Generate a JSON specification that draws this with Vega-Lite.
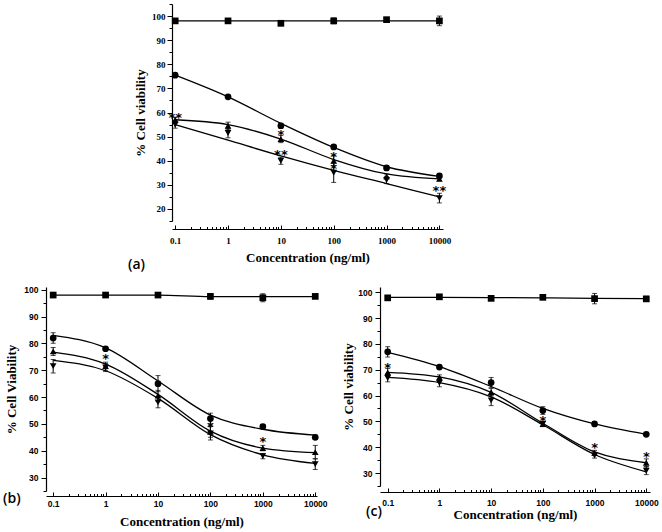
{
  "$schema": "https://vega.github.io/schema/vega-lite/v6.json",
  "padding": {"left": 3, "top": 1, "right": 2, "bottom": 0},
  "background": "white",
  "config": {
    "view": {"stroke": null},
    "axis": {"grid": false, "domainColor": "black", "domainWidth": 1.2, "tickColor": "black", "tickWidth": 1, "labelColor": "black", "titleColor": "black", "labelFontWeight": "bold", "titleFont": "Liberation Serif", "titleFontWeight": "bold", "titleFontSize": 13},
    "title": {"font": "Open Sans", "fontSize": 14, "fontWeight": 600, "color": "black"}
  },
  "datasets": {
    "a": [
      {"c": 0.1, "s": "sq", "v": 98, "e": 0.8, "f": 98}, {"c": 1, "s": "sq", "v": 98, "e": 0.5, "f": 98}, {"c": 10, "s": "sq", "v": 97, "e": 1, "f": 98}, {"c": 100, "s": "sq", "v": 98, "e": 1.2, "f": 98}, {"c": 1000, "s": "sq", "v": 98.5, "e": 0.5, "f": 98}, {"c": 10000, "s": "sq", "v": 98, "e": 2, "f": 98},
      {"c": 0.1, "s": "ci", "v": 75.5, "e": 0.6, "f": 75.5}, {"c": 1, "s": "ci", "v": 66.5, "e": 0.5, "f": 66.5}, {"c": 10, "s": "ci", "v": 54.5, "e": 1, "f": 55.5}, {"c": 100, "s": "ci", "v": 45.7, "e": 0.8, "f": 45.5}, {"c": 1000, "s": "ci", "v": 37, "e": 1, "f": 37.5}, {"c": 10000, "s": "ci", "v": 33.7, "e": 0.6, "f": 33.5},
      {"c": 0.1, "s": "tu", "v": 57, "e": 1, "f": 57}, {"c": 1, "s": "tu", "v": 54.5, "e": 1.5, "f": 55}, {"c": 10, "s": "tu", "v": 49, "e": 1.5, "f": 49}, {"c": 100, "s": "tu", "v": 40, "e": 2, "f": 40.5}, {"c": 1000, "s": "tu", "v": 33.5, "e": 1, "f": 34.5}, {"c": 10000, "s": "tu", "v": 32.5, "e": 0.8, "f": 32.5},
      {"c": 0.1, "s": "td", "v": 55, "e": 1.5, "f": 55}, {"c": 1, "s": "td", "v": 51.5, "e": 2, "f": 48.5}, {"c": 10, "s": "td", "v": 40, "e": 1.5, "f": 42}, {"c": 100, "s": "td", "v": 35, "e": 4, "f": 36}, {"c": 1000, "s": "td", "v": 32, "e": 1.5, "f": 30.5}, {"c": 10000, "s": "td", "v": 24.5, "e": 2, "f": 25}
    ],
    "sa": [
      {"c": 0.1, "v": 59, "t": "**"}, {"c": 10, "v": 51.8, "t": "*"}, {"c": 10, "v": 43.5, "t": "**"}, {"c": 100, "v": 42.8, "t": "*"}, {"c": 100, "v": 37.8, "t": "*"}, {"c": 10000, "v": 28.7, "t": "**"}
    ],
    "b": [
      {"c": 0.1, "s": "sq", "v": 98, "e": 0.8, "f": 98}, {"c": 1, "s": "sq", "v": 98, "e": 0.5, "f": 98}, {"c": 10, "s": "sq", "v": 98, "e": 0.8, "f": 98}, {"c": 100, "s": "sq", "v": 97.5, "e": 1, "f": 97.4}, {"c": 1000, "s": "sq", "v": 97, "e": 1.5, "f": 97.4}, {"c": 10000, "s": "sq", "v": 97.5, "e": 0.5, "f": 97.4},
      {"c": 0.1, "s": "ci", "v": 82, "e": 2, "f": 83}, {"c": 1, "s": "ci", "v": 78, "e": 0.5, "f": 78.3}, {"c": 10, "s": "ci", "v": 65, "e": 3, "f": 66}, {"c": 100, "s": "ci", "v": 52, "e": 2, "f": 53.3}, {"c": 1000, "s": "ci", "v": 49, "e": 0.8, "f": 48}, {"c": 10000, "s": "ci", "v": 45, "e": 0.8, "f": 45.8},
      {"c": 0.1, "s": "tu", "v": 77, "e": 1.5, "f": 76.7}, {"c": 1, "s": "tu", "v": 71.5, "e": 1.5, "f": 72.3}, {"c": 10, "s": "tu", "v": 60.5, "e": 2, "f": 61}, {"c": 100, "s": "tu", "v": 47, "e": 2, "f": 47.3}, {"c": 1000, "s": "tu", "v": 41, "e": 1, "f": 41}, {"c": 10000, "s": "tu", "v": 39.5, "e": 2.5, "f": 39.3},
      {"c": 0.1, "s": "td", "v": 71.5, "e": 2.5, "f": 73.7}, {"c": 1, "s": "td", "v": 71, "e": 1.5, "f": 69.8}, {"c": 10, "s": "td", "v": 58, "e": 2, "f": 59.5}, {"c": 100, "s": "td", "v": 46.5, "e": 2.5, "f": 46}, {"c": 1000, "s": "td", "v": 38, "e": 1, "f": 38.5}, {"c": 10000, "s": "td", "v": 35, "e": 2, "f": 35.3}
    ],
    "sb": [
      {"c": 1, "v": 75.4, "t": "*"}, {"c": 100, "v": 49.8, "t": "*"}, {"c": 1000, "v": 44.2, "t": "*"}
    ],
    "c": [
      {"c": 0.1, "s": "sq", "v": 97.8, "e": 0.5, "f": 98}, {"c": 1, "s": "sq", "v": 98.2, "e": 0.3, "f": 98}, {"c": 10, "s": "sq", "v": 97.6, "e": 0.8, "f": 97.9}, {"c": 100, "s": "sq", "v": 98, "e": 0.5, "f": 97.8}, {"c": 1000, "s": "sq", "v": 97.5, "e": 2, "f": 97.6}, {"c": 10000, "s": "sq", "v": 97.4, "e": 1, "f": 97.5},
      {"c": 0.1, "s": "ci", "v": 76.9, "e": 2, "f": 76.7}, {"c": 1, "s": "ci", "v": 71, "e": 0.5, "f": 71.2}, {"c": 10, "s": "ci", "v": 65, "e": 2, "f": 63.5}, {"c": 100, "s": "ci", "v": 54.2, "e": 1.5, "f": 55}, {"c": 1000, "s": "ci", "v": 49, "e": 0.5, "f": 49}, {"c": 10000, "s": "ci", "v": 45, "e": 0.5, "f": 45},
      {"c": 0.1, "s": "tu", "v": 69, "e": 1.5, "f": 69}, {"c": 1, "s": "tu", "v": 67, "e": 1, "f": 67.2}, {"c": 10, "s": "tu", "v": 61.3, "e": 1.5, "f": 61.2}, {"c": 100, "s": "tu", "v": 49, "e": 1, "f": 49.3}, {"c": 1000, "s": "tu", "v": 37.8, "e": 1, "f": 38.2}, {"c": 10000, "s": "tu", "v": 34, "e": 1.5, "f": 34},
      {"c": 0.1, "s": "td", "v": 66.8, "e": 1.5, "f": 67}, {"c": 1, "s": "td", "v": 64.9, "e": 1.5, "f": 65}, {"c": 10, "s": "td", "v": 58.1, "e": 2, "f": 59.5}, {"c": 100, "s": "td", "v": 49, "e": 1, "f": 48.7}, {"c": 1000, "s": "td", "v": 36.8, "e": 1, "f": 37.2}, {"c": 10000, "s": "td", "v": 30.9, "e": 1.5, "f": 30.5}
    ],
    "sc": [
      {"c": 0.1, "v": 72, "t": "*"}, {"c": 100, "v": 51.3, "t": "*"}, {"c": 1000, "v": 40.9, "t": "*"}, {"c": 10000, "v": 37.4, "t": "*"}
    ]
  },
  "vconcat": [
    {
      "spacing": 0,
      "hconcat": [
        {"width": 82, "height": 1, "data": {"values": [{}]}, "mark": {"type": "point", "opacity": 0}},
        {
          "width": 271, "height": 217,
          "title": {"text": "(a)", "orient": "bottom", "anchor": "start", "frame": "group", "offset": 0, "dx": -44, "dy": -6},
          "encoding": {
            "x": {"field": "c", "type": "quantitative", "scale": {"type": "log", "domain": [0.087, 11700], "nice": false},
              "axis": {"title": "Concentration (ng/ml)", "offset": 8, "labelFont": "Liberation Serif", "labelFontSize": 9, "format": "~g", "labelPadding": 11,
                "values": [0.1,0.2,0.3,0.4,0.5,0.6,0.7,0.8,0.9,1,2,3,4,5,6,7,8,9,10,20,30,40,50,60,70,80,90,100,200,300,400,500,600,700,800,900,1000,2000,3000,4000,5000,6000,7000,8000,9000,10000],
                "labelExpr": "abs(log(datum.value)/LN10 - round(log(datum.value)/LN10)) < 0.001 ? datum.label : ''",
                "tickSize": {"condition": {"test": "abs(log(datum.value)/LN10 - round(log(datum.value)/LN10)) < 0.001", "value": -4}, "value": -2.5},
                "titlePadding": 6}},
            "y": {"field": "v", "type": "quantitative", "scale": {"domain": [15, 105], "nice": false, "zero": false},
              "axis": {"title": "% Cell viability", "labelFont": "Liberation Serif", "labelFontSize": 9, "labelPadding": 2, "titlePadding": 4,
                "values": [15,20,25,30,35,40,45,50,55,60,65,70,75,80,85,90,95,100,105],
                "labelExpr": "datum.value % 10 === 0 ? datum.label : ''",
                "tickSize": {"condition": {"test": "datum.value % 10 === 0", "value": 5}, "value": 3}}}
          },
          "layer": [
            {"data": {"name": "a"}, "mark": {"type": "line", "interpolate": "monotone", "color": "black", "strokeWidth": 1.3},
              "encoding": {"y": {"field": "f", "type": "quantitative", "scale": {"domain": [15, 105], "nice": false, "zero": false}, "axis": {"title": "% Cell viability", "labelFont": "Liberation Serif", "labelFontSize": 9, "labelPadding": 2, "titlePadding": 4, "values": [15,20,25,30,35,40,45,50,55,60,65,70,75,80,85,90,95,100,105], "labelExpr": "datum.value % 10 === 0 ? datum.label : ''", "tickSize": {"condition": {"test": "datum.value % 10 === 0", "value": 5}, "value": 3}}}, "detail": {"field": "s"}}},
            {"data": {"name": "a"}, "mark": {"type": "errorbar", "ticks": {"size": 5}, "color": "black"}, "encoding": {"yError": {"field": "e"}}},
            {"data": {"name": "a"}, "mark": {"type": "point", "filled": true, "opacity": 1, "color": "black", "size": 45},
              "encoding": {"shape": {"field": "s", "scale": {"domain": ["sq", "ci", "tu", "td"], "range": ["square", "circle", "triangle-up", "triangle-down"]}, "legend": null}}},
            {"data": {"name": "sa"}, "mark": {"type": "text", "color": "black", "font": "DejaVu Sans", "fontSize": 13, "fontWeight": "bold", "baseline": "middle", "dy": 3}, "encoding": {"text": {"field": "t"}}}
          ]
        }
      ]
    },
    {
      "spacing": 14,
      "hconcat": [
        {
          "width": 271, "height": 204,
          "title": {"text": "(b)", "orient": "bottom", "anchor": "start", "frame": "group", "offset": 0, "dx": -43, "dy": -37},
          "encoding": {
            "x": {"field": "c", "type": "quantitative", "scale": {"type": "log", "domain": [0.073, 10800], "nice": false},
              "axis": {"title": "Concentration (ng/ml)", "offset": 5, "labelFont": "Liberation Sans", "labelFontSize": 8.5, "format": "~g", "labelPadding": 7,
                "values": [0.1,0.2,0.3,0.4,0.5,0.6,0.7,0.8,0.9,1,2,3,4,5,6,7,8,9,10,20,30,40,50,60,70,80,90,100,200,300,400,500,600,700,800,900,1000,2000,3000,4000,5000,6000,7000,8000,9000,10000],
                "labelExpr": "abs(log(datum.value)/LN10 - round(log(datum.value)/LN10)) < 0.001 ? datum.label : ''",
                "tickSize": {"condition": {"test": "abs(log(datum.value)/LN10 - round(log(datum.value)/LN10)) < 0.001", "value": -4}, "value": -2.5},
                "titlePadding": 8}},
            "y": {"field": "v", "type": "quantitative", "scale": {"domain": [25, 101], "nice": false, "zero": false},
              "axis": {"title": "% Cell Viability", "labelFont": "Liberation Sans", "labelFontSize": 8.5, "labelPadding": 3, "titlePadding": 5,
                "values": [25,30,35,40,45,50,55,60,65,70,75,80,85,90,95,100],
                "labelExpr": "datum.value % 10 === 0 ? datum.label : ''",
                "tickSize": {"condition": {"test": "datum.value % 10 === 0", "value": 5}, "value": 3}}}
          },
          "layer": [
            {"data": {"name": "b"}, "mark": {"type": "line", "interpolate": "monotone", "color": "black", "strokeWidth": 1.3},
              "encoding": {"y": {"field": "f", "type": "quantitative", "scale": {"domain": [25, 101], "nice": false, "zero": false}, "axis": {"title": "% Cell Viability", "labelFont": "Liberation Sans", "labelFontSize": 8.5, "labelPadding": 3, "titlePadding": 5, "values": [25,30,35,40,45,50,55,60,65,70,75,80,85,90,95,100], "labelExpr": "datum.value % 10 === 0 ? datum.label : ''", "tickSize": {"condition": {"test": "datum.value % 10 === 0", "value": 5}, "value": 3}}}, "detail": {"field": "s"}}},
            {"data": {"name": "b"}, "mark": {"type": "errorbar", "ticks": {"size": 5}, "color": "black"}, "encoding": {"yError": {"field": "e"}}},
            {"data": {"name": "b"}, "mark": {"type": "point", "filled": true, "opacity": 1, "color": "black", "size": 45},
              "encoding": {"shape": {"field": "s", "scale": {"domain": ["sq", "ci", "tu", "td"], "range": ["square", "circle", "triangle-up", "triangle-down"]}, "legend": null}}},
            {"data": {"name": "sb"}, "mark": {"type": "text", "color": "black", "font": "DejaVu Sans", "fontSize": 13, "fontWeight": "bold", "baseline": "middle", "dy": 3}, "encoding": {"text": {"field": "t"}}}
          ]
        },
        {
          "width": 270, "height": 199,
          "title": {"text": "(c)", "orient": "bottom", "anchor": "start", "frame": "group", "offset": 0, "dx": -14, "dy": -17},
          "encoding": {
            "x": {"field": "c", "type": "quantitative", "scale": {"type": "log", "domain": [0.071, 11800], "nice": false},
              "axis": {"title": "Concentration (ng/ml)", "offset": 6, "labelFont": "Liberation Sans", "labelFontSize": 8.5, "format": "~g", "labelPadding": 10,
                "values": [0.1,0.2,0.3,0.4,0.5,0.6,0.7,0.8,0.9,1,2,3,4,5,6,7,8,9,10,20,30,40,50,60,70,80,90,100,200,300,400,500,600,700,800,900,1000,2000,3000,4000,5000,6000,7000,8000,9000,10000],
                "labelExpr": "abs(log(datum.value)/LN10 - round(log(datum.value)/LN10)) < 0.001 ? datum.label : ''",
                "tickSize": {"condition": {"test": "abs(log(datum.value)/LN10 - round(log(datum.value)/LN10)) < 0.001", "value": -4}, "value": -2.5},
                "titlePadding": 2}},
            "y": {"field": "v", "type": "quantitative", "scale": {"domain": [25, 102], "nice": false, "zero": false},
              "axis": {"title": "% Cell viability", "labelFont": "Liberation Sans", "labelFontSize": 8.5, "labelPadding": 3, "titlePadding": 2,
                "values": [25,30,35,40,45,50,55,60,65,70,75,80,85,90,95,100],
                "labelExpr": "datum.value % 10 === 0 ? datum.label : ''",
                "tickSize": {"condition": {"test": "datum.value % 10 === 0", "value": 5}, "value": 3}}}
          },
          "layer": [
            {"data": {"name": "c"}, "mark": {"type": "line", "interpolate": "monotone", "color": "black", "strokeWidth": 1.3},
              "encoding": {"y": {"field": "f", "type": "quantitative", "scale": {"domain": [25, 102], "nice": false, "zero": false}, "axis": {"title": "% Cell viability", "labelFont": "Liberation Sans", "labelFontSize": 8.5, "labelPadding": 3, "titlePadding": 2, "values": [25,30,35,40,45,50,55,60,65,70,75,80,85,90,95,100], "labelExpr": "datum.value % 10 === 0 ? datum.label : ''", "tickSize": {"condition": {"test": "datum.value % 10 === 0", "value": 5}, "value": 3}}}, "detail": {"field": "s"}}},
            {"data": {"name": "c"}, "mark": {"type": "errorbar", "ticks": {"size": 5}, "color": "black"}, "encoding": {"yError": {"field": "e"}}},
            {"data": {"name": "c"}, "mark": {"type": "point", "filled": true, "opacity": 1, "color": "black", "size": 45},
              "encoding": {"shape": {"field": "s", "scale": {"domain": ["sq", "ci", "tu", "td"], "range": ["square", "circle", "triangle-up", "triangle-down"]}, "legend": null}}},
            {"data": {"name": "sc"}, "mark": {"type": "text", "color": "black", "font": "DejaVu Sans", "fontSize": 13, "fontWeight": "bold", "baseline": "middle", "dy": 3}, "encoding": {"text": {"field": "t"}}}
          ]
        }
      ]
    }
  ],
  "spacing": 13
}
